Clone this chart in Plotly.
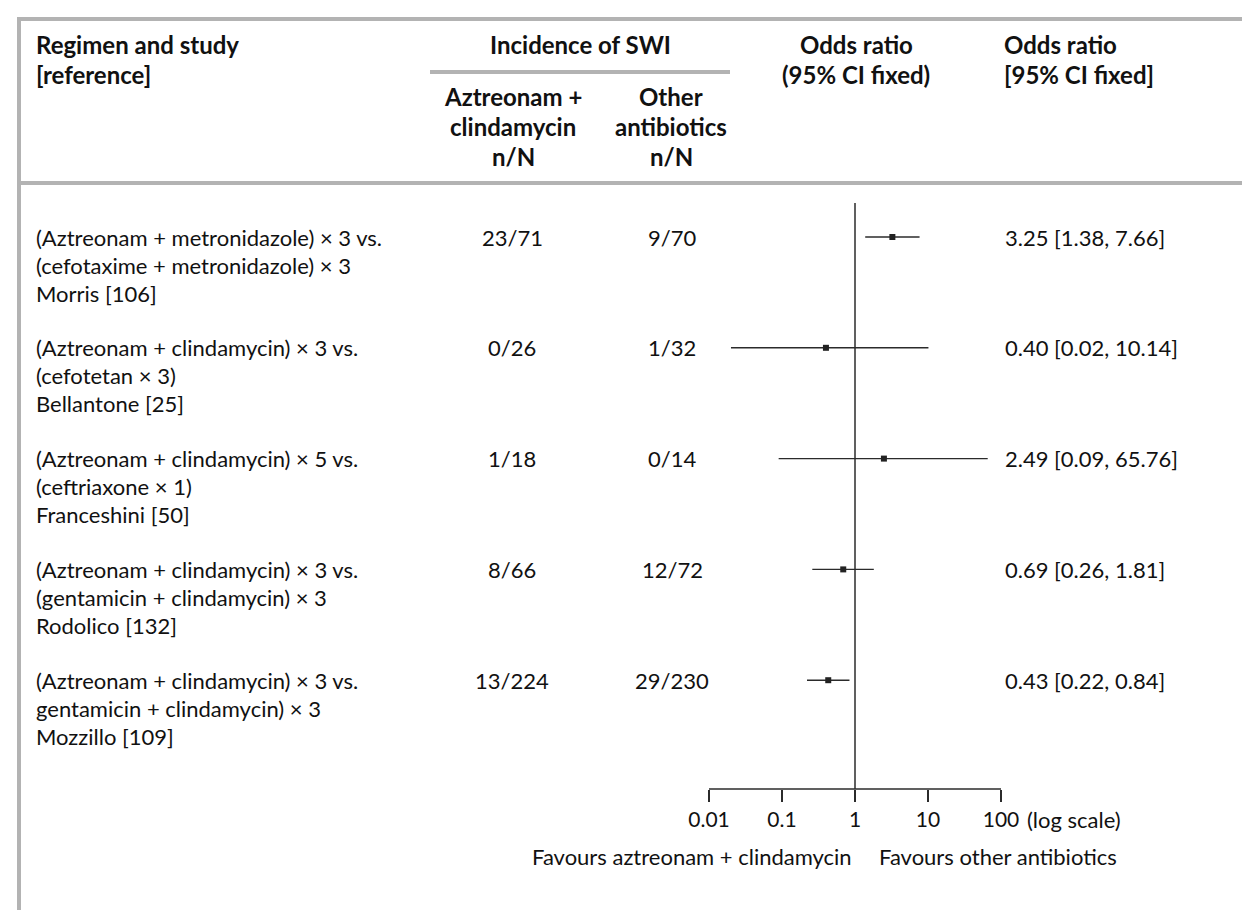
import plotly.graph_objects as go

# ---------------- data ----------------
regimen_line1 = [
    "(Aztreonam + metronidazole) × 3 vs.",
    "(Aztreonam + clindamycin) × 3 vs.",
    "(Aztreonam + clindamycin) × 5 vs.",
    "(Aztreonam + clindamycin) × 3 vs.",
    "(Aztreonam + clindamycin) × 3 vs.",
]
regimen_line2 = [
    "(cefotaxime + metronidazole) × 3",
    "(cefotetan × 3)",
    "(ceftriaxone × 1)",
    "(gentamicin + clindamycin) × 3",
    "gentamicin + clindamycin) × 3",
]
study_ref = ["Morris [106]", "Bellantone [25]", "Franceshini [50]", "Rodolico [132]", "Mozzillo [109]"]
aztreonam_nN = ["23/71", "0/26", "1/18", "8/66", "13/224"]
other_nN = ["9/70", "1/32", "0/14", "12/72", "29/230"]
odds_ratio = [3.25, 0.40, 2.49, 0.69, 0.43]
ci_low = [1.38, 0.02, 0.09, 0.26, 0.22]
ci_high = [7.66, 10.14, 65.76, 1.81, 0.84]
or_text = ["3.25 [1.38, 7.66]", "0.40 [0.02, 10.14]", "2.49 [0.09, 65.76]",
           "0.69 [0.26, 1.81]", "0.43 [0.22, 0.84]"]
tick_vals = [0.01, 0.1, 1, 10, 100]
tick_text = ["0.01", "0.1", "1", "10", "100"]

# ---------------- layout helpers ----------------
W, H = 1250, 910
FONT = "Lato"
TXT = "#111111"
GRAY = "#b3b3b3"
LINE = "#2b2b2b"


def X(px):
    return px / W


def Y(py):
    return 1 - py / H


ROW0, ROWSTEP, LINESTEP = 229, 110.8, 28
AX_TOP, AX_BOT = 195, 781
PX_ONE, PX_DEC = 847, 73.0
DOM_L, DOM_R = 680, 1010

n = len(odds_ratio)
rows = list(range(n))
y_top = (AX_TOP - ROW0) / ROWSTEP
y_bot = (AX_BOT - ROW0) / ROWSTEP

fig = go.Figure()

# CI lines
cx, cy = [], []
for i in rows:
    cx += [ci_low[i], ci_high[i], None]
    cy += [i, i, None]
fig.add_trace(go.Scatter(x=cx, y=cy, mode="lines", line=dict(color=LINE, width=1.4),
                         hoverinfo="skip", showlegend=False))
# point estimates
fig.add_trace(go.Scatter(x=odds_ratio, y=rows, mode="markers",
                         marker=dict(symbol="square", size=6, color="#222222"),
                         showlegend=False))

annotations = []


def ann(text, px, py, anchor="left", size=22, bold=False):
    annotations.append(dict(
        text=f"<b>{text}</b>" if bold else text,
        x=X(px), y=Y(py), xref="paper", yref="paper",
        xanchor=anchor, yanchor="middle", showarrow=False, borderpad=0,
        font=dict(family=FONT, size=size, color=TXT)))


# headers
HS = 24
ann("Regimen and study", 27, 37, bold=True, size=HS)
ann("[reference]", 27, 67, bold=True, size=HS)
ann("Incidence of SWI", 572, 37, anchor="center", bold=True, size=HS)
ann("Aztreonam +", 505, 89, anchor="center", bold=True, size=HS)
ann("clindamycin", 505, 119, anchor="center", bold=True, size=HS)
ann("n/N", 505, 149, anchor="center", bold=True, size=HS)
ann("Other", 663, 89, anchor="center", bold=True, size=HS)
ann("antibiotics", 663, 119, anchor="center", bold=True, size=HS)
ann("n/N", 663, 149, anchor="center", bold=True, size=HS)
ann("Odds ratio", 848, 37, anchor="center", bold=True, size=HS)
ann("(95% CI fixed)", 848, 67, anchor="center", bold=True, size=HS)
ann("Odds ratio", 995, 37, bold=True, size=HS)
ann("[95% CI fixed]", 995, 67, bold=True, size=HS)

# rows
for i in rows:
    py = ROW0 + ROWSTEP * i
    ann(regimen_line1[i], 27, py)
    ann(regimen_line2[i], 27, py + LINESTEP)
    ann(study_ref[i], 27, py + 2 * LINESTEP)
    ann(aztreonam_nN[i], 504, py, anchor="center")
    ann(other_nN[i], 664, py, anchor="center")
    ann(or_text[i], 996, py)

ann("(log scale)", 1018, 811)
ann("Favours aztreonam + clindamycin", 845, 848, anchor="right")
ann("Favours other antibiotics", 870, 848)

shapes = [
    # frame
    dict(type="line", xref="paper", yref="paper", x0=X(9), x1=1.01, y0=Y(11), y1=Y(11),
         line=dict(color=GRAY, width=4)),
    dict(type="line", xref="paper", yref="paper", x0=X(11), x1=X(11), y0=Y(9), y1=-0.01,
         line=dict(color=GRAY, width=4)),
    dict(type="line", xref="paper", yref="paper", x0=X(9), x1=1.01, y0=Y(175), y1=Y(175),
         line=dict(color=GRAY, width=4)),
    dict(type="line", xref="paper", yref="paper", x0=X(422), x1=X(722), y0=Y(64), y1=Y(64),
         line=dict(color=GRAY, width=4)),
    # line of no effect
    dict(type="line", xref="x", yref="y domain", x0=1, x1=1, y0=0, y1=1,
         line=dict(color=LINE, width=1.5)),
    # axis baseline between outer ticks
    dict(type="line", xref="x", yref="y domain", x0=tick_vals[0], x1=tick_vals[-1], y0=0, y1=0,
         line=dict(color=LINE, width=1.5)),
]

fig.update_layout(
    width=W, height=H,
    margin=dict(l=0, r=0, t=0, b=0),
    paper_bgcolor="white", plot_bgcolor="white",
    showlegend=False,
    font=dict(family=FONT, color=TXT),
    xaxis=dict(type="log",
               range=[(DOM_L - PX_ONE) / PX_DEC, (DOM_R - PX_ONE) / PX_DEC],
               domain=[X(DOM_L), X(DOM_R)],
               tickvals=tick_vals, ticktext=tick_text,
               ticks="outside", ticklen=12, tickwidth=1.5, tickcolor=LINE,
               tickfont=dict(family=FONT, size=21, color=TXT),
               showgrid=False, zeroline=False, showline=False, fixedrange=True),
    yaxis=dict(range=[y_bot, y_top], domain=[Y(AX_BOT), Y(AX_TOP)],
               visible=False, fixedrange=True),
    annotations=annotations,
    shapes=shapes,
)

fig.write_html("out.html")
